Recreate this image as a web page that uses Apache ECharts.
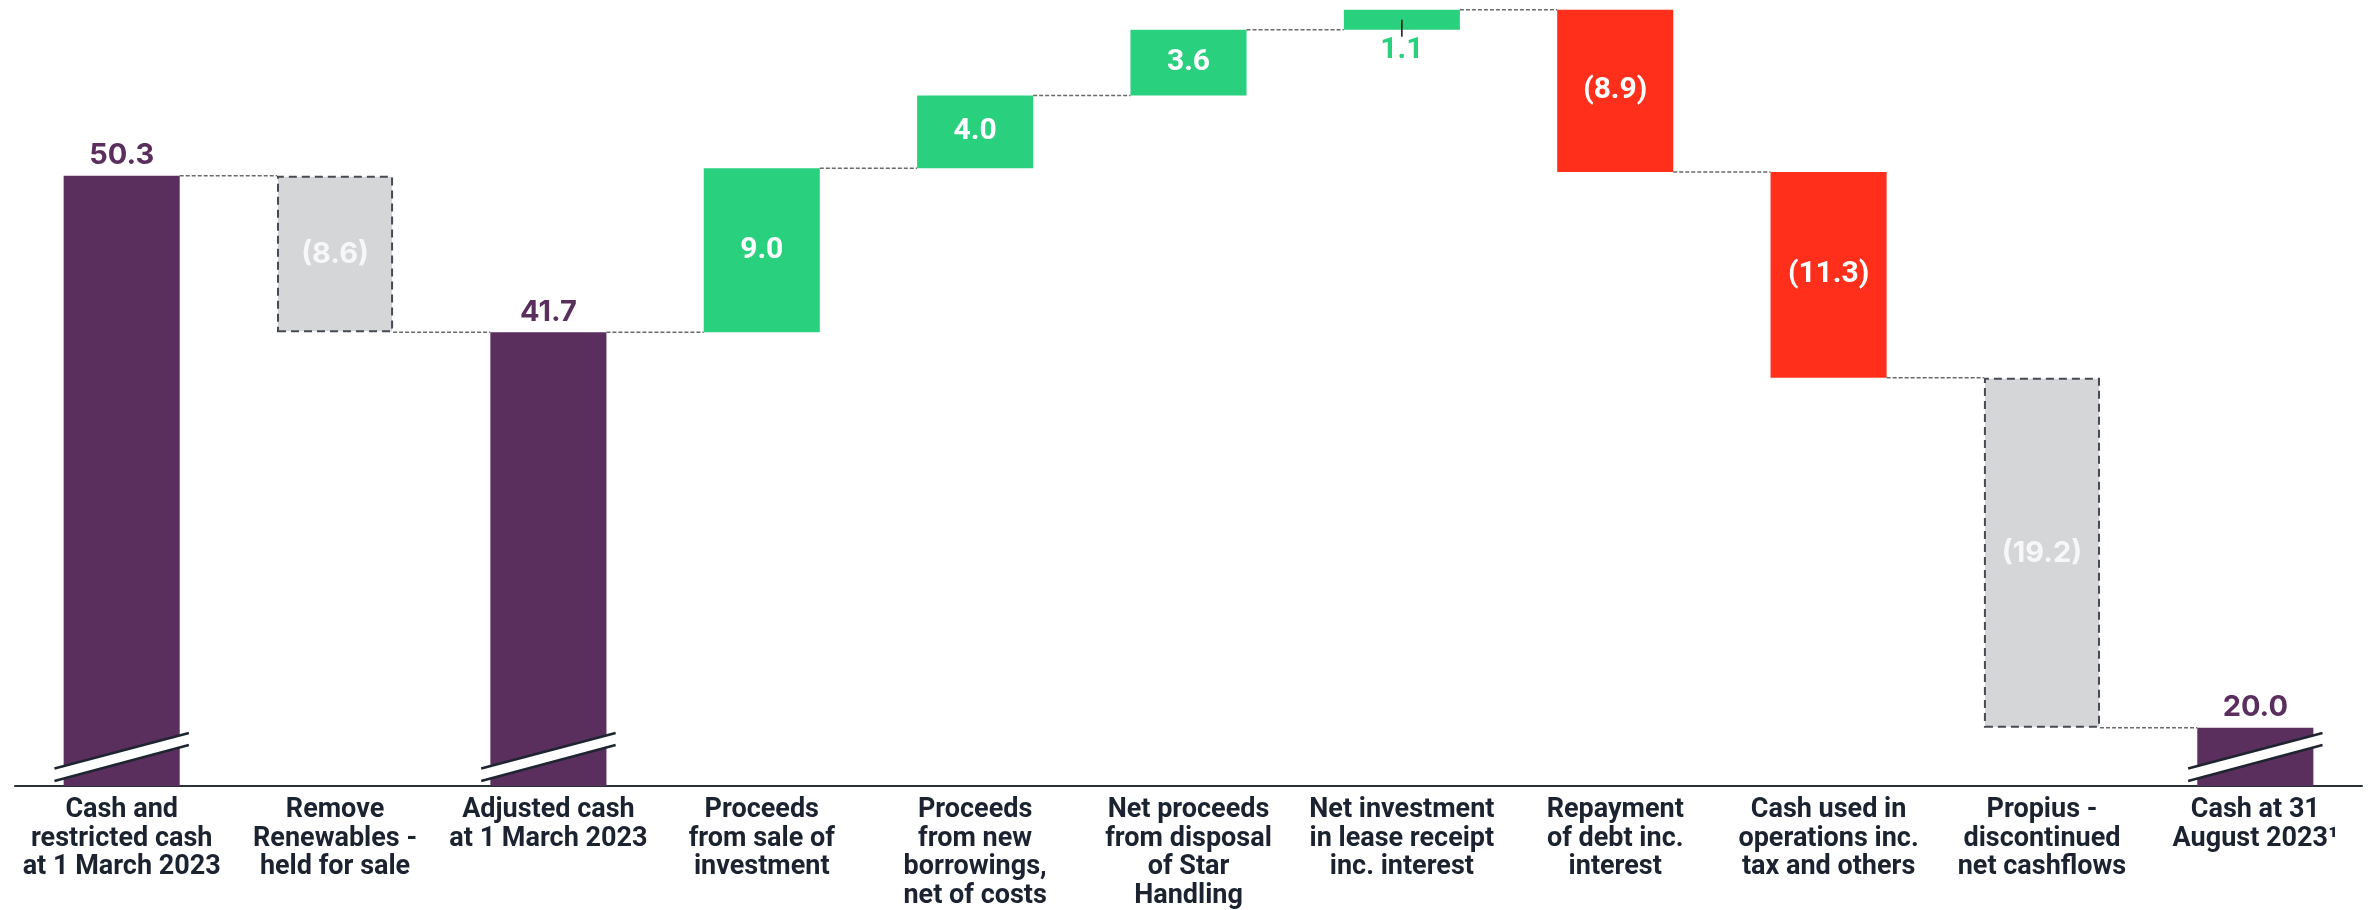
<!DOCTYPE html>
<html><head><meta charset="utf-8">
<script src="https://cdn.jsdelivr.net/npm/echarts@6/dist/echarts.min.js"></script>
<style>html,body{margin:0;padding:0;background:#fff}#c{width:2372px;height:910px}</style>
</head><body><div id="c"></div>
<script>
const categories = [
  "Cash and\nrestricted cash\nat 1 March 2023",
  "Remove\nRenewables -\nheld for sale",
  "Adjusted cash\nat 1 March 2023",
  "Proceeds\nfrom sale of\ninvestment",
  "Proceeds\nfrom new\nborrowings,\nnet of costs",
  "Net proceeds\nfrom disposal\nof Star\nHandling",
  "Net investment\nin lease receipt\ninc. interest",
  "Repayment\nof debt inc.\ninterest",
  "Cash used in\noperations inc.\ntax and others",
  "Propius -\ndiscontinued\nnet cashflows",
  "Cash at 31\nAugust 2023\u00b9"
];
const values = [50.3, -8.6, 41.7, 9.0, 4.0, 3.6, 1.1, -8.9, -11.3, -19.2, 20.0];
const kinds  = ['total','adjust','total','up','up','up','up','down','down','adjust','total'];

const Y_MIN = 16.8, Y_MAX = 59.5;
const COLORS = {total:'#5a2f5e', up:'#29d17f', down:'#ff2f1b', adjust:'#d5d6d8'};

// waterfall layout from the values
const base = [], height = [], level = [];
let run = 0;
values.forEach((v, i) => {
  if (kinds[i] === 'total') { run = v; base.push(0); height.push(v); }
  else if (v >= 0) { base.push(run); height.push(v); run += v; }
  else { run += v; base.push(run); height.push(-v); }
  level.push(run);
});
const labelText = values.map(v => v < 0 ? '(' + Math.abs(v).toFixed(1) + ')' : v.toFixed(1));

const deltaData = values.map((v, i) => {
  const k = kinds[i];
  const item = {value: height[i], itemStyle: {color: COLORS[k]}};
  if (k === 'adjust') {
    item.itemStyle.borderColor = '#454a53';
    item.itemStyle.borderWidth = 2;
    item.itemStyle.borderType = [8, 5];
    item.label = {position: 'inside', color: '#f7f7f7', fontFamily: 'Inter', fontWeight: 700, fontSize: 29};
  } else if (k === 'total') {
    item.label = {position: 'top', distance: 6, color: COLORS.total, fontFamily: 'Inter', fontWeight: 700, fontSize: 29};
  } else if (height[i] < 2) {
    item.label = {position: 'bottom', distance: 6, color: COLORS.up, fontFamily: 'Roboto', fontWeight: 700, fontSize: 30};
  } else {
    item.label = {position: 'inside', color: '#ffffff', fontFamily: 'Roboto', fontWeight: 700, fontSize: 30};
  }
  return item;
});

const chart = echarts.init(document.getElementById('c'), null, {renderer: 'canvas'});
chart.setOption({
  animation: false,
  grid: {left: 15, right: 10, top: 8, bottom: 123},
  xAxis: {
    type: 'category', data: categories,
    axisLine: {show: true, lineStyle: {color: '#2a3039', width: 2}},
    axisTick: {show: false},
    axisLabel: {interval: 0, margin: 10, color: '#1b2230', fontFamily: 'Roboto', fontWeight: 700, fontSize: 27, lineHeight: 28.5, align: 'center'}
  },
  yAxis: {type: 'value', min: Y_MIN, max: Y_MAX, show: false, splitLine: {show: false}},
  series: [
    {type: 'bar', stack: 'w', data: base, barWidth: '54.4%', itemStyle: {color: 'transparent'}, silent: true},
    {type: 'bar', stack: 'w', data: deltaData, barWidth: '54.4%', clip: true,
     label: {show: true, formatter: p => labelText[p.dataIndex]}},
    {type: 'custom', z: 10, silent: true, clip: false,
     data: categories.map((c, i) => [i]),
     encode: {x: 0},
     renderItem: function (params, api) {
       const i = api.value(0);
       const band = api.size([1, 0])[0];
       const half = band * 0.272;
       const children = [];
       if (i < categories.length - 1) {
         const a = api.coord([i, level[i]]);
         const b = api.coord([i + 1, level[i]]);
         children.push({type: 'line', shape: {x1: a[0] + half, y1: a[1], x2: b[0] - half, y2: a[1]},
           style: {stroke: '#6a6a6a', lineWidth: 1.5, lineDash: [4, 2]}});
       }
       if (kinds[i] === 'total') {
         const p = api.coord([i, Y_MIN]);
         const bx = p[0], by = p[1];
         const L = band * 0.315;
         children.push({type: 'polygon', shape: {points: [[bx - L, by - 17.5], [bx + L, by - 53], [bx + L, by - 41], [bx - L, by - 5]]},
           style: {fill: '#ffffff'}});
         children.push({type: 'line', shape: {x1: bx - L, y1: by - 17.5, x2: bx + L, y2: by - 53}, style: {stroke: '#1f2530', lineWidth: 2.5}});
         children.push({type: 'line', shape: {x1: bx - L, y1: by - 5, x2: bx + L, y2: by - 41}, style: {stroke: '#1f2530', lineWidth: 2.5}});
       }
       if (kinds[i] !== 'total' && height[i] < 2) {
         const mid = api.coord([i, base[i] + height[i] / 2]);
         const bot = api.coord([i, base[i]]);
         children.push({type: 'line', shape: {x1: mid[0], y1: mid[1], x2: mid[0], y2: bot[1] + 7},
           style: {stroke: '#111111', lineWidth: 1.5}});
       }
       return {type: 'group', children: children};
     }}
  ]
});
</script></body></html>
